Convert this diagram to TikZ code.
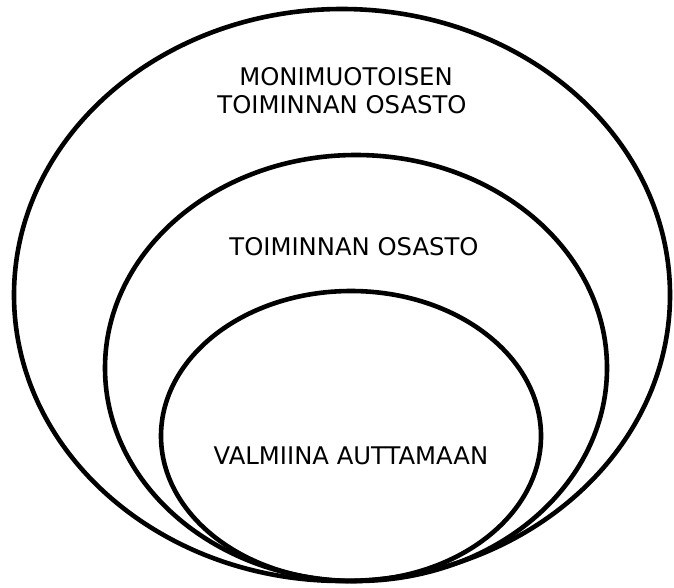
\documentclass[tikz,border=0pt]{standalone}
\usepackage{fontspec}
\setmainfont{DejaVu Sans}
\tikzset{
  ring/.style={draw=black, line width=4.6pt},
  lbl/.style={font=\fontsize{24.3}{29}\selectfont, inner sep=0pt, anchor=center}
}
\begin{document}
\begin{tikzpicture}[x=1pt,y=-1pt]
\useasboundingbox (0,0) rectangle (674,587);
\draw[ring] (342,295) ellipse [x radius=328, y radius=286];
\draw[ring] (356,368) ellipse [x radius=251, y radius=213];
\draw[ring] (351,436) ellipse [x radius=190, y radius=145];
\node[lbl] (t1) at (346,77) {MONIMUOTOISEN};
\node[lbl] (t2) at (342,105) {TOIMINNAN OSASTO};
\node[lbl] (t3) at (354,247) {TOIMINNAN OSASTO};
\node[lbl] (t4) at (351,456) {VALMIINA AUTTAMAAN};
\end{tikzpicture}
\end{document}
